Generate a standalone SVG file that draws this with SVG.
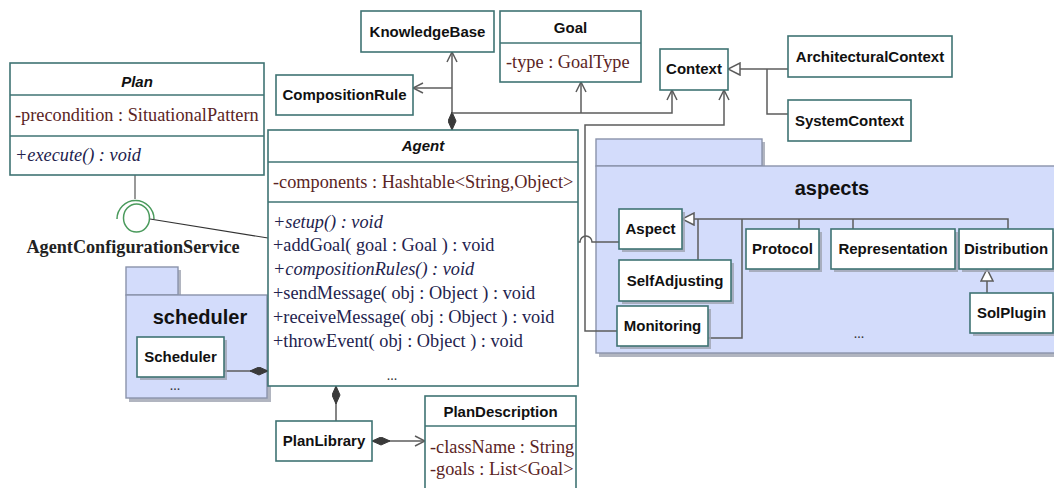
<svg xmlns="http://www.w3.org/2000/svg" width="1054" height="488" viewBox="0 0 1054 488">
  <style>
    .box { fill: #ffffff; stroke: #3f7373; stroke-width: 1.6; }
    .sep { stroke: #3f7373; stroke-width: 1.6; }
    .shadow { fill: #9ea3b0; opacity: 0.8; }
    .pkg { fill: #d3dcfb; stroke: #8a93ab; stroke-width: 1.4; }
    .cls { font-family: "Liberation Sans", Arial, sans-serif; font-weight: bold; font-size: 15px; fill: #111; text-anchor: middle; }
    .abs { font-style: italic; }
    .pkgname { font-family: "Liberation Sans", Arial, sans-serif; font-weight: bold; font-size: 20px; fill: #111; text-anchor: middle; }
    .attr { font-family: "Liberation Serif", "Times New Roman", serif; font-size: 18.3px; fill: #5a2424; }
    .op { font-family: "Liberation Serif", "Times New Roman", serif; font-size: 18.3px; fill: #23234e; }
    .it { font-style: italic; }
    .dots { font-family: "Liberation Serif", "Times New Roman", serif; font-size: 14px; fill: #333; text-anchor: middle; }
    .conn { fill: none; stroke: #5c5c5c; stroke-width: 1.5; }
    .iface { fill: none; stroke: #4a9a5c; stroke-width: 1.5; }
    .label { font-family: "Liberation Serif", "Times New Roman", serif; font-weight: bold; font-size: 18.2px; fill: #222; text-anchor: middle; }
  </style>
  <defs>
    <marker id="arrowOpen" viewBox="0 0 12 12" refX="11" refY="6" markerWidth="12" markerHeight="12" markerUnits="userSpaceOnUse" orient="auto">
      <path d="M1,1 L11,6 L1,11" fill="none" stroke="#5c5c5c" stroke-width="1.5"/>
    </marker>
    <marker id="diamond" viewBox="0 0 19 9" refX="0" refY="4.5" markerWidth="19" markerHeight="9" markerUnits="userSpaceOnUse" orient="auto">
      <path d="M0,4.5 L9,0.5 L18,4.5 L9,8.5 Z" fill="#3a3a3a" stroke="#3a3a3a" stroke-width="1"/>
    </marker>
    <marker id="triangle" viewBox="0 0 14 14" refX="13" refY="7" markerWidth="14" markerHeight="14" markerUnits="userSpaceOnUse" orient="auto">
      <path d="M1,1 L13,7 L1,13 Z" fill="#ffffff" stroke="#5c5c5c" stroke-width="1.5"/>
    </marker>
  </defs>

  <!-- packages -->
  <g id="pkg-scheduler">
    <rect class="shadow" x="129" y="270" width="52" height="28"/>
    <rect class="shadow" x="129" y="298" width="142" height="104"/>
    <rect class="pkg" x="126" y="267" width="52" height="28"/>
    <rect class="pkg" x="126" y="295" width="141" height="103"/>
    <text class="pkgname" x="200" y="324">scheduler</text>
    <text class="dots" x="175" y="390">...</text>
  </g>
  <g id="pkg-aspects">
    <rect class="shadow" x="599" y="142" width="166" height="27"/>
    <rect class="shadow" x="599" y="169" width="470" height="188"/>
    <rect class="pkg" x="596" y="139" width="166" height="27"/>
    <rect class="pkg" x="596" y="166" width="470" height="187"/>
    <text class="pkgname" x="832" y="195">aspects</text>
    <text class="dots" x="859" y="338">...</text>
  </g>

  <!-- connectors -->
  <g id="connectors">
    <path class="conn" d="M452,130 V52" marker-start="url(#diamond)" marker-end="url(#arrowOpen)"/>
    <path class="conn" d="M452,88 H413" marker-end="url(#arrowOpen)"/>
    <path class="conn" d="M452,113 H672 V90" marker-end="url(#arrowOpen)"/>
    <path class="conn" d="M581,113 V82" marker-end="url(#arrowOpen)"/>
    <path class="conn" d="M617,331 H585 V125 H724 V90" marker-end="url(#arrowOpen)"/>
    <path class="conn" d="M620,242 H592 A6,6 0 0 0 580,242 H578"/>
    <path class="conn" d="M788,69 H728" marker-end="url(#triangle)"/>
    <path class="conn" d="M767,69 V114 H788"/>
    <path class="conn" d="M1008,229 V219 H682" marker-end="url(#triangle)"/>
    <path class="conn" d="M698,260 V219"/>
    <path class="conn" d="M708,338 H742 V219"/>
    <path class="conn" d="M799,229 V219"/>
    <path class="conn" d="M853,229 V219"/>
    <path class="conn" d="M987,293 V269" marker-end="url(#triangle)"/>
    <path class="conn" d="M268,371 H224" marker-start="url(#diamond)"/>
    <path class="conn" d="M336,386 V421" marker-start="url(#diamond)"/>
    <path class="conn" d="M372,441 H425" marker-start="url(#diamond)" marker-end="url(#arrowOpen)"/>
    <path d="M135,175 V199" fill="none" stroke="#555" stroke-width="1.2"/>
    <path d="M150,219 L268,238" fill="none" stroke="#333" stroke-width="1.2"/>
  </g>

  <!-- required interface -->
  <g id="AgentConfigurationService">
    <path class="iface" d="M117,219 A18.5,18.5 0 0 1 154,219"/>
    <ellipse class="iface" cx="136.5" cy="218" rx="13" ry="14"/>
    <text class="label" x="133" y="253">AgentConfigurationService</text>
  </g>

  <!-- classes -->
  <g id="Plan">
    <rect class="box" x="10" y="63" width="254" height="112"/>
    <line class="sep" x1="10" y1="95" x2="264" y2="95"/>
    <line class="sep" x1="10" y1="136" x2="264" y2="136"/>
    <text class="cls abs" x="137" y="87">Plan</text>
    <text class="attr" x="15" y="121">-precondition : SituationalPattern</text>
    <text class="op it" x="15" y="161">+execute() : void</text>
  </g>

  <g id="KnowledgeBase">
    <rect class="box" x="361" y="11" width="133" height="41"/>
    <text class="cls" x="427.5" y="37">KnowledgeBase</text>
  </g>

  <g id="Goal">
    <rect class="box" x="500" y="11" width="141" height="71"/>
    <line class="sep" x1="500" y1="43" x2="641" y2="43"/>
    <text class="cls" x="570.5" y="33">Goal</text>
    <text class="attr" x="506" y="68">-type : GoalType</text>
  </g>

  <g id="CompositionRule">
    <rect class="box" x="276" y="75" width="137" height="40"/>
    <text class="cls" x="344.5" y="100">CompositionRule</text>
  </g>

  <g id="Context">
    <rect class="box" x="660" y="49" width="68" height="41"/>
    <text class="cls" x="694" y="74">Context</text>
  </g>

  <g id="ArchitecturalContext">
    <rect class="box" x="788" y="36" width="164" height="41"/>
    <text class="cls" x="870" y="62">ArchitecturalContext</text>
  </g>

  <g id="SystemContext">
    <rect class="box" x="788" y="100" width="123" height="41"/>
    <text class="cls" x="849.5" y="126">SystemContext</text>
  </g>

  <g id="Agent">
    <rect class="box" x="268" y="130" width="310" height="256"/>
    <line class="sep" x1="268" y1="162" x2="578" y2="162"/>
    <line class="sep" x1="268" y1="202" x2="578" y2="202"/>
    <text class="cls abs" x="423" y="151">Agent</text>
    <text class="attr" x="273" y="188">-components : Hashtable&lt;String,Object&gt;</text>
    <text class="op it" x="273" y="228">+setup() : void</text>
    <text class="op" x="273" y="251">+addGoal( goal : Goal ) : void</text>
    <text class="op it" x="273" y="275">+compositionRules() : void</text>
    <text class="op" x="273" y="299">+sendMessage( obj : Object ) : void</text>
    <text class="op" x="273" y="323">+receiveMessage( obj : Object ) : void</text>
    <text class="op" x="273" y="347">+throwEvent( obj : Object ) : void</text>
    <text class="dots" x="392" y="380">...</text>
  </g>

  <g id="Scheduler">
    <rect class="shadow" x="140" y="340" width="87" height="40"/>
    <rect class="box" x="137" y="337" width="87" height="40"/>
    <text class="cls" x="180.5" y="362">Scheduler</text>
  </g>

  <g id="Aspect">
    <rect class="shadow" x="622" y="212" width="63" height="40"/>
    <rect class="box" x="619" y="209" width="63" height="40"/>
    <text class="cls" x="650.5" y="234">Aspect</text>
  </g>

  <g id="SelfAdjusting">
    <rect class="shadow" x="622" y="263" width="112" height="41"/>
    <rect class="box" x="619" y="260" width="112" height="41"/>
    <text class="cls" x="675" y="286">SelfAdjusting</text>
  </g>

  <g id="Monitoring">
    <rect class="shadow" x="620" y="309" width="91" height="40"/>
    <rect class="box" x="617" y="306" width="91" height="40"/>
    <text class="cls" x="662.5" y="331">Monitoring</text>
  </g>

  <g id="Protocol">
    <rect class="shadow" x="749" y="232" width="73" height="40"/>
    <rect class="box" x="746" y="229" width="73" height="40"/>
    <text class="cls" x="782.5" y="254">Protocol</text>
  </g>

  <g id="Representation">
    <rect class="shadow" x="834" y="232" width="124" height="40"/>
    <rect class="box" x="831" y="229" width="124" height="40"/>
    <text class="cls" x="893" y="254">Representation</text>
  </g>

  <g id="Distribution">
    <rect class="shadow" x="962" y="232" width="94" height="40"/>
    <rect class="box" x="959" y="229" width="94" height="40"/>
    <text class="cls" x="1006" y="254">Distribution</text>
  </g>

  <g id="SolPlugin">
    <rect class="shadow" x="973" y="296" width="83" height="40"/>
    <rect class="box" x="970" y="293" width="83" height="40"/>
    <text class="cls" x="1011.5" y="318">SolPlugin</text>
  </g>

  <g id="PlanLibrary">
    <rect class="box" x="276" y="421" width="96" height="40"/>
    <text class="cls" x="324" y="446">PlanLibrary</text>
  </g>

  <g id="PlanDescription">
    <rect class="box" x="425" y="396" width="151" height="110"/>
    <line class="sep" x1="425" y1="426" x2="576" y2="426"/>
    <text class="cls" x="500.5" y="417">PlanDescription</text>
    <text class="attr" x="430" y="453">-className : String</text>
    <text class="attr" x="430" y="475">-goals : List&lt;Goal&gt;</text>
  </g>
</svg>
